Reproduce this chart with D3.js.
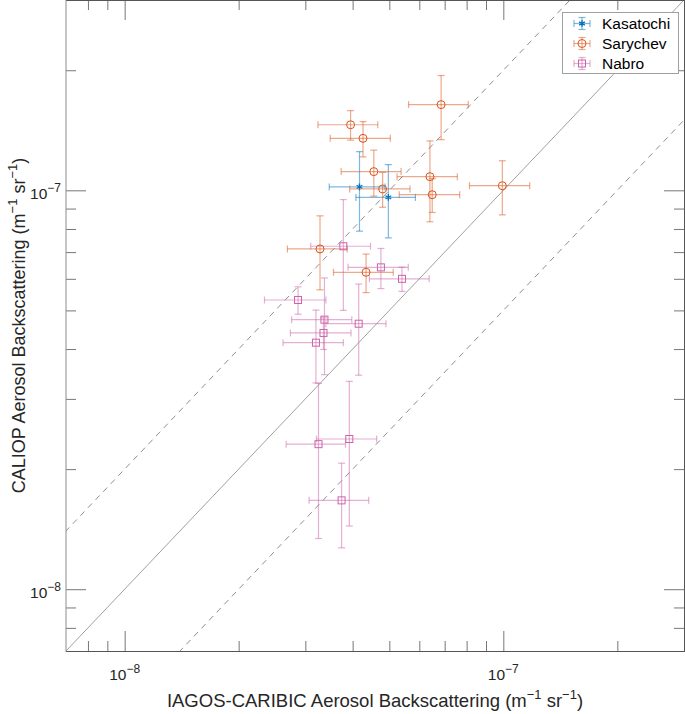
<!DOCTYPE html>
<html>
<head>
<meta charset="utf-8">
<script src="https://cdn.jsdelivr.net/npm/d3@7"></script>
<style>
  html, body { margin: 0; padding: 0; background: #fff; }
  svg { display: block; font-family: "Liberation Sans", Arial, Helvetica, sans-serif; }
</style>
</head>
<body>
<svg id="chart" width="685" height="714"></svg>
<script>
// ---- data (m^-1 sr^-1) ----
const seriesNames = ["Kasatochi", "Sarychev", "Nabro"];

const kasatochiX    = [4.17e-8, 4.97e-8];
const kasatochiY    = [1.02e-7, 9.60e-8];
const kasatochiXErr = [0.70e-8, 0.89e-8];
const kasatochiYErr = [2.30e-8, 2.00e-8];

const sarychevX    = [6.85e-8, 3.95e-8, 4.26e-8, 4.55e-8, 4.80e-8, 6.40e-8, 6.49e-8, 9.94e-8, 3.28e-8, 4.34e-8];
const sarychevY    = [1.64e-7, 1.46e-7, 1.35e-7, 1.114e-7, 1.008e-7, 1.082e-7, 9.75e-8, 1.027e-7, 7.13e-8, 6.23e-8];
const sarychevXErr = [1.23e-8, 0.71e-8, 0.77e-8, 0.82e-8, 0.87e-8, 1.16e-8, 1.18e-8, 1.80e-8, 0.59e-8, 0.78e-8];
const sarychevYErr = [3.00e-8, 1.24e-8, 1.37e-8, 1.47e-8, 1.01e-8, 2.48e-8, 0.95e-8, 1.59e-8, 1.50e-8, 0.69e-8];

const nabroX    = [3.78e-8, 4.75e-8, 5.40e-8, 2.87e-8, 3.37e-8, 4.15e-8, 3.35e-8, 3.20e-8, 3.25e-8, 3.92e-8, 3.74e-8];
const nabroY    = [7.24e-8, 6.41e-8, 6.00e-8, 5.31e-8, 4.74e-8, 4.63e-8, 4.39e-8, 4.15e-8, 2.31e-8, 2.38e-8, 1.67e-8];
const nabroXErr = [0.68e-8, 0.86e-8, 0.97e-8, 0.53e-8, 0.61e-8, 0.75e-8, 0.61e-8, 0.58e-8, 0.58e-8, 0.71e-8, 0.67e-8];
const nabroYErr = [2.24e-8, 0.74e-8, 0.42e-8, 0.42e-8, 1.29e-8, 1.19e-8, 0.40e-8, 0.86e-8, 0.97e-8, 0.94e-8, 0.40e-8];

const axisDomain = [7e-9, 3e-7];
const majorTicks = [1e-8, 1e-7];
const majorTickExponents = ["−8", "−7"];
const minorTicks = [8e-9, 9e-9, 2e-8, 3e-8, 4e-8, 5e-8, 6e-8, 7e-8, 8e-8, 9e-8, 2e-7];
const refRatios = [1, 2, 0.5];

const xTitle = "IAGOS-CARIBIC Aerosol Backscattering";
const yTitle = "CALIOP Aerosol Backscattering";

// ---- layout ----
const L = 66, R = 684, T = 0, B = 651;
const svg = d3.select("#chart");
const x = d3.scaleLog().domain(axisDomain).range([L, R]);
const y = d3.scaleLog().domain(axisDomain).range([B, T]);

const colors = { Kasatochi: "#0072BD", Sarychev: "#D95319", Nabro: "#CC62A8" };
const series = [
  { name: "Kasatochi", x: kasatochiX, y: kasatochiY, xe: kasatochiXErr, ye: kasatochiYErr, marker: "star" },
  { name: "Sarychev",  x: sarychevX,  y: sarychevY,  xe: sarychevXErr,  ye: sarychevYErr,  marker: "circle" },
  { name: "Nabro",     x: nabroX,     y: nabroY,     xe: nabroXErr,     ye: nabroYErr,     marker: "square" }
];

svg.append("defs").append("clipPath").attr("id", "plotclip")
  .append("rect").attr("x", L).attr("y", T).attr("width", R - L).attr("height", B - T);

// ---- reference lines ----
const refG = svg.append("g").attr("clip-path", "url(#plotclip)");
const lineGen = d3.line().x(d => x(d[0])).y(d => y(d[1]));
refRatios.forEach(r => {
  const pts = [[axisDomain[0] / 4, axisDomain[0] / 4 * r], [axisDomain[1] * 4, axisDomain[1] * 4 * r]];
  refG.append("path").attr("d", lineGen(pts))
    .attr("fill", "none")
    .attr("stroke", r === 1 ? "#a0a0a0" : "#8f8f8f")
    .attr("stroke-width", 1)
    .attr("stroke-dasharray", r === 1 ? null : "6,5");
});

// ---- axes ----
function styleAxis(g) {
  g.select(".domain").remove();
  g.selectAll(".tick line").attr("stroke", "#777").attr("stroke-width", 1);
  g.selectAll(".tick text").remove();
}
function addAxis(axisFn, scale, transform) {
  svg.append("g").attr("transform", transform)
    .call(axisFn(scale).tickValues(minorTicks).tickSize(-10).tickFormat(""))
    .call(styleAxis);
  svg.append("g").attr("transform", transform)
    .call(axisFn(scale).tickValues(majorTicks).tickSize(-20).tickFormat(""))
    .call(styleAxis);
}
addAxis(d3.axisBottom, x, `translate(0,${B})`);
addAxis(d3.axisTop, x, `translate(0,${T})`);
addAxis(d3.axisLeft, y, `translate(${L},0)`);
addAxis(d3.axisRight, y, `translate(${R},0)`);

// frame
svg.append("line").attr("x1", L).attr("x2", R + 0.5).attr("y1", B + 0.5).attr("y2", B + 0.5).attr("stroke", "#555");
svg.append("line").attr("x1", L).attr("x2", R + 0.5).attr("y1", T + 0.5).attr("y2", T + 0.5).attr("stroke", "#555");
svg.append("line").attr("x1", L).attr("x2", L).attr("y1", T).attr("y2", B + 1).attr("stroke", "#8c8c8c");
svg.append("line").attr("x1", R + 0.5).attr("x2", R + 0.5).attr("y1", T).attr("y2", B + 1).attr("stroke", "#555");

// tick labels
majorTicks.forEach((v, i) => {
  const t = svg.append("text").attr("x", x(v)).attr("y", 680)
    .attr("text-anchor", "middle").attr("font-size", 15.5).attr("fill", "#262626");
  t.append("tspan").text("10");
  t.append("tspan").attr("font-size", 12).attr("dy", -7).text(majorTickExponents[i]);

  const t2 = svg.append("text").attr("x", L - 5).attr("y", y(v) + 9)
    .attr("text-anchor", "end").attr("font-size", 15.5).attr("fill", "#262626");
  t2.append("tspan").text("10");
  t2.append("tspan").attr("font-size", 12).attr("dy", -7).text(majorTickExponents[i]);
});

// axis titles
function unitTitle(sel, base) {
  sel.append("tspan").text(base + " (m");
  sel.append("tspan").attr("font-size", 13).attr("dy", -8).text("−1");
  sel.append("tspan").attr("dy", 8).text(" sr");
  sel.append("tspan").attr("font-size", 13).attr("dy", -8).text("−1");
  sel.append("tspan").attr("dy", 8).text(")");
}
const xt = svg.append("text").attr("x", (L + R) / 2).attr("y", 707)
  .attr("text-anchor", "middle").attr("font-size", 18.5).attr("fill", "#262626");
unitTitle(xt, xTitle);
const yt = svg.append("text").attr("transform", `translate(25,${(T + B) / 2}) rotate(-90)`)
  .attr("text-anchor", "middle").attr("font-size", 18).attr("fill", "#262626");
unitTitle(yt, yTitle);

// ---- markers ----
function drawMarker(g, type, cx, cy, color) {
  if (type === "circle") {
    g.append("circle").attr("cx", cx).attr("cy", cy).attr("r", 4)
      .attr("fill", "none").attr("stroke", color).attr("stroke-width", 1);
  } else if (type === "square") {
    g.append("rect").attr("x", cx - 3.5).attr("y", cy - 3.5).attr("width", 7).attr("height", 7)
      .attr("fill", "none").attr("stroke", color).attr("stroke-width", 1);
  } else {
    g.append("path").attr("transform", `translate(${cx},${cy})`)
      .attr("d", d3.symbol(d3.symbolAsterisk, 30)())
      .attr("fill", "none").attr("stroke", color).attr("stroke-width", 1.3);
  }
}
function drawErrorBar(g, cx, cy, x0, x1, y0, y1, color) {
  const cap = 3.5;
  const eg = g.append("g").attr("stroke", color).attr("stroke-opacity", 0.5).attr("stroke-width", 1.2);
  eg.append("line").attr("x1", cx).attr("x2", cx).attr("y1", y0).attr("y2", y1);
  eg.append("line").attr("x1", cx - cap).attr("x2", cx + cap).attr("y1", y0).attr("y2", y0);
  eg.append("line").attr("x1", cx - cap).attr("x2", cx + cap).attr("y1", y1).attr("y2", y1);
  eg.append("line").attr("x1", x0).attr("x2", x1).attr("y1", cy).attr("y2", cy);
  eg.append("line").attr("x1", x0).attr("x2", x0).attr("y1", cy - cap).attr("y2", cy + cap);
  eg.append("line").attr("x1", x1).attr("x2", x1).attr("y1", cy - cap).attr("y2", cy + cap);
}

const dataG = svg.append("g").attr("clip-path", "url(#plotclip)");
series.forEach(s => {
  const c = colors[s.name];
  const g = dataG.append("g");
  s.x.forEach((xv, i) => {
    const yv = s.y[i];
    drawErrorBar(g, x(xv), y(yv), x(xv - s.xe[i]), x(xv + s.xe[i]), y(yv - s.ye[i]), y(yv + s.ye[i]), c);
  });
  s.x.forEach((xv, i) => drawMarker(g, s.marker, x(xv), y(s.y[i]), c));
});

// ---- legend ----
const lg = svg.append("g");
lg.append("rect").attr("x", 562.5).attr("y", 12.5).attr("width", 116).attr("height", 61)
  .attr("fill", "#fff").attr("stroke", "#a0a0a0");
series.forEach((s, i) => {
  const cy = 23.5 + i * 20, cx = 582;
  const c = colors[s.name];
  drawErrorBar(lg, cx, cy, cx - 8, cx + 8, cy + 6, cy - 6, c);
  drawMarker(lg, s.marker, cx, cy, c);
  lg.append("text").attr("x", 602).attr("y", cy + 5.5).attr("font-size", 15.5)
    .attr("fill", "#000").text(s.name);
});
</script>
</body>
</html>
